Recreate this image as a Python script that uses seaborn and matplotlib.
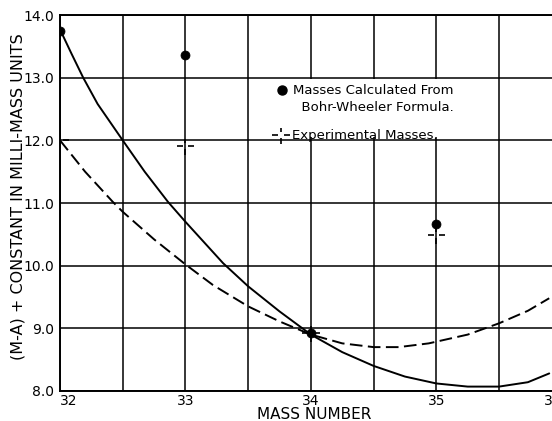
import seaborn as sns
import matplotlib.pyplot as plt
from matplotlib.path import Path
from matplotlib.lines import Line2D
from matplotlib.patches import Rectangle

# ── values ──────────────────────────────────────────────────────
# smooth curve through the Bohr-Wheeler masses (solid)
calc_x = [32.0, 32.09, 32.185, 32.3, 32.5, 32.675, 32.86, 33.0, 33.3, 33.5,
          33.75, 34.0, 34.25, 34.5, 34.75, 35.0, 35.25, 35.5, 35.73, 35.9]
calc_y = [13.77, 13.39, 13.0, 12.58, 12.0, 11.5, 11.02, 10.7, 10.04, 9.67,
          9.27, 8.9, 8.62, 8.4, 8.23, 8.12, 8.07, 8.07, 8.14, 8.28]

# curve through the experimental masses (dashed)
exp_x = [32.0, 32.2, 32.42, 32.5, 32.75, 33.0, 33.22, 33.5, 33.75, 34.0,
         34.25, 34.5, 34.7, 34.94, 35.25, 35.5, 35.73, 35.9]
exp_y = [12.0, 11.5, 11.02, 10.86, 10.42, 10.02, 9.69, 9.35, 9.11, 8.9,
         8.76, 8.7, 8.7, 8.76, 8.9, 9.08, 9.28, 9.48]

# single points
mass_number = [32, 33, 34, 35]
bohr_wheeler = [13.75, 13.37, 8.92, 10.67]
experimental = [12.0, 11.91, 8.92, 10.49]

x_ticks = [32, 33, 34, 35, 36]
y_ticks = [8, 9, 10, 11, 12, 13, 14]

sns.set_style("white")
plt.rcParams['font.family'] = ['DejaVu Sans']
plt.rcParams.update({'text.color': 'k', 'axes.labelcolor': 'k',
                     'xtick.color': 'k', 'ytick.color': 'k'})

# broken cross used for the experimental points  -¦-
g = 0.32
cross = Path([(-1, 0), (-g, 0), (g, 0), (1, 0), (0, -1), (0, -g), (0, g), (0, 0.8)],
             [Path.MOVETO, Path.LINETO] * 4)

fig = plt.figure(figsize=(5.52, 4.21), dpi=100)
ax = fig.add_axes([0.1087, 0.0713, 0.909, 0.893])

sns.lineplot(x=calc_x, y=calc_y, color='k', lw=1.4, ax=ax, zorder=2)
sns.lineplot(x=exp_x, y=exp_y, color='k', lw=1.4, linestyle=(0, (6.5, 2.8)), ax=ax, zorder=2)

sns.scatterplot(x=mass_number, y=bohr_wheeler, color='k', edgecolor='k',
                s=42, ax=ax, zorder=4)
sns.scatterplot(x=mass_number, y=experimental, marker=cross, facecolor='none',
                edgecolor='k', linewidth=1.2, s=160, ax=ax, zorder=4)

ax.set_xlim(32, 36)
ax.set_ylim(8, 14)
ax.set_xticks(x_ticks)
ax.set_xticks([32.5, 33.5, 34.5, 35.5], minor=True)
ax.set_yticks(y_ticks)
ax.set_xticklabels([str(t) for t in x_ticks], fontsize=10)
ax.set_yticklabels([f"{t:.1f}" for t in y_ticks], fontsize=10)
ax.get_xticklabels()[0].set_ha('left')
ax.get_xticklabels()[-1].set_ha('right')
ax.tick_params(axis='x', which='both', length=0, pad=2)
ax.tick_params(axis='y', length=3, width=1, pad=1)

ax.grid(True, which='both', color='k', lw=1.1)
ax.set_axisbelow(True)
for side in ['left', 'bottom', 'top', 'right']:
    ax.spines[side].set_color('k')
    ax.spines[side].set_linewidth(1.4)

ax.set_xlabel("MASS NUMBER", fontsize=11)
ax.xaxis.set_label_coords(0.506, -0.0425)
ax.set_ylabel("(M-A) + CONSTANT IN MILLI-MASS UNITS", fontsize=11.5)
ax.yaxis.set_label_coords(-0.069, 0.516)

# blank patch behind the key, as on the original sheet
ax.add_patch(Rectangle((0.39, 0.675), 0.44, 0.155, transform=ax.transAxes,
                       facecolor='white', edgecolor='none', zorder=1))

dot_h = Line2D([], [], ls='none', marker='o', color='k', ms=6.5)
blank_h = Line2D([], [], ls='none', marker='none')
cross_h = Line2D([], [], ls='none', marker=cross, color='k', mew=1.2, ms=12.6, fillstyle='none')

leg1 = ax.legend([dot_h, blank_h], ["Masses Calculated From", "  Bohr-Wheeler Formula."],
                 loc='upper left', bbox_to_anchor=(0.41, 0.840), frameon=False,
                 fontsize=9.5, handlelength=1.0, handletextpad=0.35,
                 labelspacing=0.27, borderpad=0.2)
ax.add_artist(leg1)
ax.legend([cross_h], ["Experimental Masses."],
          loc='upper left', bbox_to_anchor=(0.409, 0.7206), frameon=False,
          fontsize=9.5, handlelength=1.0, handletextpad=0.35, borderpad=0.2)

fig.savefig('out.png', dpi=100)
